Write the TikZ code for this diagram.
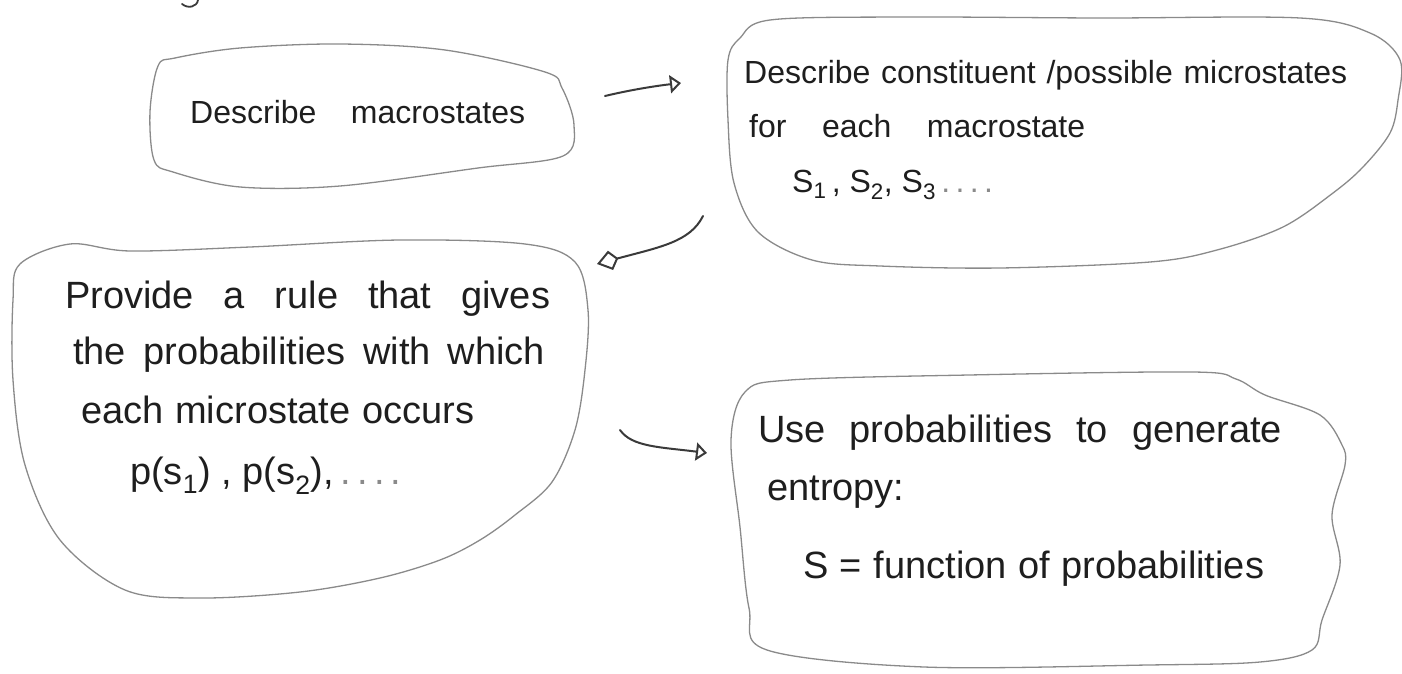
\documentclass[tikz,border=0pt]{standalone}
\usepackage{fontspec}
\setmainfont{Liberation Sans}
\usetikzlibrary{arrows.meta}
\definecolor{ink}{HTML}{1E1E1E}
\definecolor{boxline}{HTML}{8A8A8A}
\definecolor{arrowink}{HTML}{3A3A3A}
\newcommand\hwline[2]{\makebox[#1pt][s]{#2}}
\begin{document}
\begin{tikzpicture}[x=1pt,y=-1pt,
  blob/.style={draw=boxline,line width=1.3pt,line join=round},
  txt/.style={anchor=base west,inner sep=0pt,text=ink},
  conn/.style={draw=arrowink,line width=2pt,line cap=round,line join=round},
  ftA/.style={font=\fontsize{32}{40}\selectfont},
  ftB/.style={font=\fontsize{32}{38}\selectfont},
  ftC/.style={font=\fontsize{38}{44}\selectfont},
  ftD/.style={font=\fontsize{38}{44}\selectfont}]
\useasboundingbox (0,0) rectangle (1402,674);

% partial letter at top edge
\draw[conn,line width=1.8pt] (198,0) .. controls (197,7) and (188,9) .. (182,4);

% box 1
\draw[blob] plot[smooth cycle,tension=0.55] coordinates {
  (158,66) (175,58) (240,48) (340,44) (445,50) (545,72) (562,88) (574,125)
  (563,156) (478,168) (340,186) (240,187) (173,172) (154,160) (150,112)};
\node[txt,ftA] (t1) at (190,124) {\hwline{335}{Describe macrostates}};

% box 2
\draw[blob] plot[smooth cycle,tension=0.55] coordinates {
  (728,60) (740,38) (770,20) (900,17) (1100,18) (1300,18) (1370,33) (1400,60)
  (1398,100) (1390,133) (1363,167) (1333,193) (1283,227) (1217,250) (1150,262)
  (1000,268) (880,266) (812,260) (758,232) (734,183) (728,120)};
\node[txt,ftB] (t2a) at (744,84) {\hwline{603}{Describe constituent /possible microstates}};
\node[txt,ftB] (t2b) at (749,137) {\hwline{336}{for each macrostate}};
\node[txt,ftB] (t2c) at (792,192) {S\textsubscript{1}\,, S\textsubscript{2}, S\textsubscript{3}\textcolor{boxline}{\,.\,.\,.\,.}};

% box 3
\draw[blob] plot[smooth cycle,tension=0.55] coordinates {
  (20,264) (70,244) (130,251) (250,247) (400,240) (525,244) (575,262) (588,310)
  (585,370) (575,430) (552,482) (515,515) (480,540) (440,560) (380,578)
  (300,592) (200,598) (125,590) (60,540) (25,465) (13,380) (13,300)};
\node[txt,ftC] (t3a) at (65,308) {\hwline{485}{Provide a rule that gives}};
\node[txt,ftC] (t3b) at (73,364) {\hwline{472}{the probabilities with which}};
\node[txt,ftC] (t3c) at (81,423) {\hwline{393}{each microstate occurs}};
\node[txt,ftC] (t3d) at (130,484) {p(s\textsubscript{1}) , p(s\textsubscript{2}),\textcolor{boxline}{\,.\,.\,.\,.}};

% box 4
\draw[blob] plot[smooth cycle,tension=0.55] coordinates {
  (745,392) (790,380) (969,375) (1193,372) (1236,379) (1265,395) (1320,415)
  (1342,445) (1345,465) (1332,515) (1340,565) (1322,620) (1312,650) (1260,662)
  (1148,665) (924,667) (767,650) (749,608) (740,527) (731,440)};
\node[txt,ftD] (t4a) at (758,442) {\hwline{524}{Use probabilities to generate}};
\node[txt,ftD] (t4b) at (767,500) {entropy:};
\node[txt,ftD] (t4c) at (803,578) {\hwline{461}{S = function of probabilities}};

% connectors
\coordinate (a1s) at (605,96);
\coordinate (a1e) at (681,83);
\coordinate (a2s) at (703,216);
\coordinate (a2e) at (597,264);
\coordinate (a3s) at (620,430);
\coordinate (a3e) at (707,453);
\draw[conn,-{Triangle[open,length=11pt,width=18pt]}] (a1s) .. controls (630,90) and (655,86) .. (a1e);
\draw[conn,-{Kite[open,length=22pt,width=20pt,inset=8pt]}] (a2s) .. controls (690,242) and (660,247) .. (a2e);
\draw[conn,-{Triangle[open,length=11pt,width=18pt]}] (a3s) .. controls (632,447) and (660,447) .. (a3e);
\end{tikzpicture}
\end{document}
